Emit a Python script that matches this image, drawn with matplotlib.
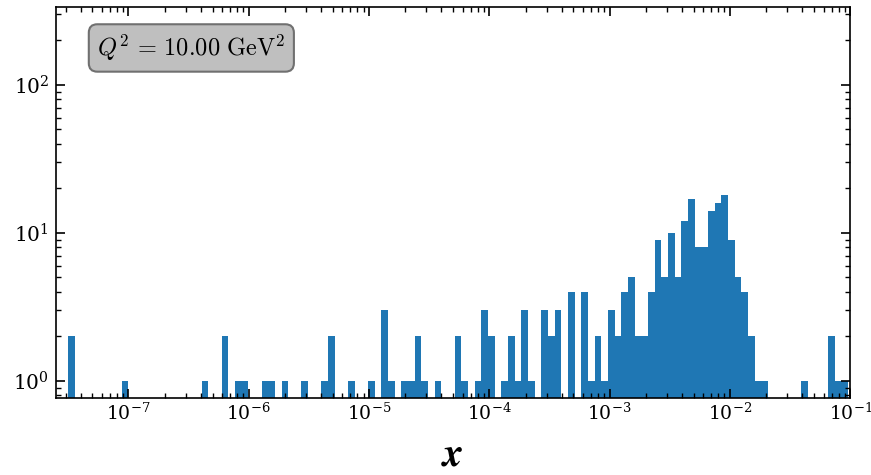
import numpy as np
import matplotlib
matplotlib.use('Agg')
import matplotlib.pyplot as plt

# log-spaced bins (117 bins from 10^-7.5 to 10^-1.02)
log_lo, log_hi, n_bins = -7.5, -1.02, 117

# counts per bin
counts = [0] * n_bins
nonzero = {
    0: 2, 8: 1, 20: 1, 23: 2, 25: 1, 26: 1, 29: 1, 30: 1, 32: 1, 35: 1,
    38: 1, 39: 2, 42: 1, 45: 1, 47: 3, 48: 1, 50: 1, 51: 1, 52: 2, 53: 1,
    55: 1, 58: 2, 59: 1, 61: 1, 62: 3, 63: 2, 65: 1, 66: 2, 67: 1, 68: 3,
    69: 1, 71: 3, 72: 2, 73: 3, 75: 4, 77: 4, 78: 1, 79: 2, 80: 1, 81: 3,
    82: 2, 83: 4, 84: 5, 85: 2, 86: 2, 87: 4, 88: 9, 89: 5, 90: 10, 91: 5,
    92: 12, 93: 17, 94: 8, 95: 8, 96: 14, 97: 16, 98: 18, 99: 9, 100: 5,
    101: 4, 102: 2, 103: 1, 104: 1, 110: 1, 114: 2, 115: 1, 116: 1,
}
for k, v in nonzero.items():
    counts[k] = v

Q2 = 10.00

plt.rcParams['mathtext.fontset'] = 'cm'
plt.rcParams['font.family'] = 'serif'
plt.rcParams['font.serif'] = ['DejaVu Serif']

edges = np.logspace(log_lo, log_hi, n_bins + 1)
centers = np.sqrt(edges[:-1] * edges[1:])

fig = plt.figure(figsize=(8.71, 4.75), dpi=100)
ax = fig.add_axes([0.0643, 0.1627, 0.9119, 0.8226])

ax.hist(centers, bins=edges, weights=counts, color='#1f77b4')
ax.set_xscale('log')
ax.set_yscale('log')
ax.set_xlim(2.5e-8, 1e-1)
ax.set_ylim(0.77, 336)

ax.set_xticks([1e-7, 1e-6, 1e-5, 1e-4, 1e-3, 1e-2, 1e-1])
ax.tick_params(which='both', direction='in', top=True, right=True)
ax.tick_params(axis='x', labelsize=13.5)
ax.tick_params(axis='y', labelsize=14.5, pad=5)
ax.tick_params(which='major', length=6.5, width=1.2)
ax.tick_params(which='minor', length=3.8, width=1.0)
for s in ax.spines.values():
    s.set_linewidth(1.2)

ax.set_xlabel('x', fontsize=29, family='STIXGeneral', style='italic',
              weight='bold', labelpad=9)

ax.text(0.052, 0.934, r'$Q^2\,=\,10.00\ \mathrm{GeV}^2$', transform=ax.transAxes,
        fontsize=17.5, va='top', ha='left',
        bbox=dict(boxstyle='round,pad=0.35', facecolor='#bfbfbf',
                  edgecolor='#707070', linewidth=1.5))

fig.savefig('out.png', dpi=100)
